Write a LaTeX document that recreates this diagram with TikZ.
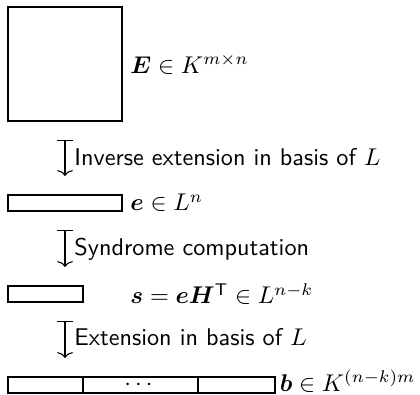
\documentclass[tikz,border=0pt]{standalone}
\usepackage{amsmath,amssymb,bm}
\renewcommand{\familydefault}{\sfdefault}
\usetikzlibrary{arrows.meta,fit}
\begin{document}
\begin{tikzpicture}[x=0.4132pt,y=-0.4132pt,
  boxline/.style={draw,line width=0.8pt,inner sep=0pt,outer sep=0pt},
  box/.style={boxline,anchor=north west},
  mapsarrow/.style={line width=0.45pt,{Bar[width=7pt]}-{To[length=2.4pt,width=6.5pt]}},
  steplabel/.style={anchor=base west,inner sep=0pt},
  vec/.style={anchor=west,inner sep=0pt}]
\useasboundingbox (0,0) rectangle (420,394);
% shapes
\node[box,minimum width=47.1pt,minimum height=47.1pt] (E) at (8,7) {};
\node[box,minimum width=47.1pt,minimum height=6.6pt] (e) at (8,195) {};
\node[box,minimum width=31pt,minimum height=6.6pt] (s) at (8,286) {};
% labels
\node[vec] (El) at (130,64) {$\bm{E}\in K^{m\times n}$};
\node[vec] (el) at (130,203) {$\bm{e}\in L^{n}$};
\node[vec] (sl) at (130,294) {$\bm{s}=\bm{e}\bm{H}^{\mathsf{T}}\in L^{n-k}$};
\node[anchor=base east,inner sep=0pt] (bl) at (416,391) {$\bm{b}\in K^{(n-k)m}$};
% long vector b, ending just before its label
\coordinate (bnw) at (8,377);
\path (bl.west) ++(-4,0) coordinate (bx);
\coordinate (bse) at (bx |- 0,393);
\node[boxline,fit=(bnw)(bse)] (b) {};
\coordinate (b1) at (83,377);
\coordinate (b2) at (198,377);
\draw[line width=0.45pt] (b1) -- (b1 |- b.south);
\draw[line width=0.45pt] (b2) -- (b2 |- b.south);
\node[inner sep=0pt] (dots) at (140.5,385) {$\cdots$};
% arrows
\coordinate (t1) at (65,140); \coordinate (h1) at (65,176);
\coordinate (t2) at (65,230); \coordinate (h2) at (65,267);
\coordinate (t3) at (65,321); \coordinate (h3) at (65,358);
\draw[mapsarrow] (t1) -- (h1);
\draw[mapsarrow] (t2) -- (h2);
\draw[mapsarrow] (t3) -- (h3);
\node[steplabel] (L1) at (74,165) {Inverse extension in basis of $L$};
\node[steplabel] (L2) at (74,255) {Syndrome computation};
\node[steplabel] (L3) at (74,345) {Extension in basis of $L$};
\end{tikzpicture}
\end{document}
